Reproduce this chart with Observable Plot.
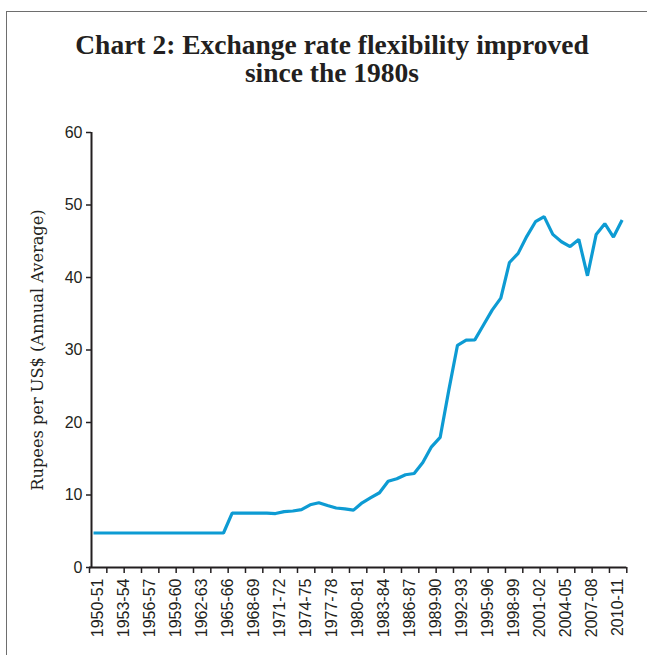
<!DOCTYPE html>
<html><head><meta charset="utf-8">
<script src="https://cdn.jsdelivr.net/npm/d3@7"></script>
<script src="https://cdn.jsdelivr.net/npm/@observablehq/plot@0.6"></script>
<style>
body{margin:0;background:#fff;}
#wrap{position:relative;width:647px;height:655px;overflow:hidden;background:#fff;}
#frame{position:absolute;left:6px;top:11px;width:660px;height:660px;border-left:1.5px solid #6e6e6e;border-top:1.5px solid #6e6e6e;}
#title{position:absolute;top:31px;left:7px;width:650px;text-align:center;font-family:"Liberation Serif",serif;font-weight:bold;font-size:27.5px;line-height:28px;color:#231f20;}
#chart{position:absolute;left:0;top:0;}
</style></head>
<body><div id="wrap"><div id="frame"></div><div id="chart"></div><div id="title">Chart 2: Exchange rate flexibility improved<br>since the 1980s</div></div>
<script>
const years = ["1950-51","1951-52","1952-53","1953-54","1954-55","1955-56","1956-57","1957-58","1958-59","1959-60",
"1960-61","1961-62","1962-63","1963-64","1964-65","1965-66","1966-67","1967-68","1968-69","1969-70",
"1970-71","1971-72","1972-73","1973-74","1974-75","1975-76","1976-77","1977-78","1978-79","1979-80",
"1980-81","1981-82","1982-83","1983-84","1984-85","1985-86","1986-87","1987-88","1988-89","1989-90",
"1990-91","1991-92","1992-93","1993-94","1994-95","1995-96","1996-97","1997-98","1998-99","1999-00",
"2000-01","2001-02","2002-03","2003-04","2004-05","2005-06","2006-07","2007-08","2008-09","2009-10",
"2010-11","2011-12"];
const rates = [4.76,4.76,4.76,4.76,4.76,4.76,4.76,4.76,4.76,4.76,
4.76,4.76,4.76,4.76,4.76,4.76,7.50,7.50,7.50,7.50,
7.50,7.44,7.71,7.79,7.98,8.65,8.94,8.56,8.21,8.08,
7.91,8.93,9.63,10.31,11.89,12.24,12.79,12.97,14.48,16.65,
17.94,24.47,30.65,31.37,31.40,33.45,35.50,37.16,42.07,43.33,
45.68,47.69,48.40,45.95,44.93,44.27,45.25,40.24,45.92,47.42,
45.58,47.92];
const yTicks = [0,10,20,30,40,50,60];
const yLabel = "Rupees per US$ (Annual Average)";

const data = years.map((y, i) => ({i, year: y, rate: rates[i]}));
const tickIdx = d3.range(0, years.length + 1, 2);
const labelIdx = d3.range(0, years.length, 3);

const chart = Plot.plot({
  width: 647,
  height: 655,
  marginLeft: 93,
  marginRight: 16.7,
  marginTop: 132,
  marginBottom: 88,
  style: {background: "transparent", color: "#231f20"},
  x: {type: "linear", domain: [0, years.length], axis: null},
  y: {domain: [0, 60], axis: null},
  marks: [
    Plot.axisY({ticks: yTicks, tickSize: 5, tickPadding: 4, dx: -2, fontSize: 16,
      fontFamily: "Liberation Sans, sans-serif", strokeWidth: 1.5, label: null}),
    Plot.axisX({ticks: tickIdx, tickFormat: () => "", tickSize: 6, dx: -4, strokeWidth: 1.5, label: null}),
    Plot.axisX({ticks: labelIdx, tickFormat: i => years[i], tickSize: 0, tickPadding: 11, tickRotate: -90,
      dx: 4, fontSize: 16, fontFamily: "Liberation Sans, sans-serif", label: null}),
    Plot.ruleX([0], {dx: -2, stroke: "#231f20", strokeWidth: 2}),
    Plot.ruleY([0], {dx: -4, stroke: "#231f20", strokeWidth: 2}),
    Plot.line(data, {x: "i", y: "rate", stroke: "#0d9bd3", strokeWidth: 3.2, strokeLinejoin: "miter", strokeLinecap: "butt"}),
    Plot.text([yLabel], {frameAnchor: "left", textAnchor: "middle", lineAnchor: "middle", dx: -56, rotate: -90, fontSize: 16.2,
      fontFamily: "DejaVu Serif, serif", fill: "#231f20"})
  ]
});
document.getElementById("chart").appendChild(chart);
</script>
</body></html>
